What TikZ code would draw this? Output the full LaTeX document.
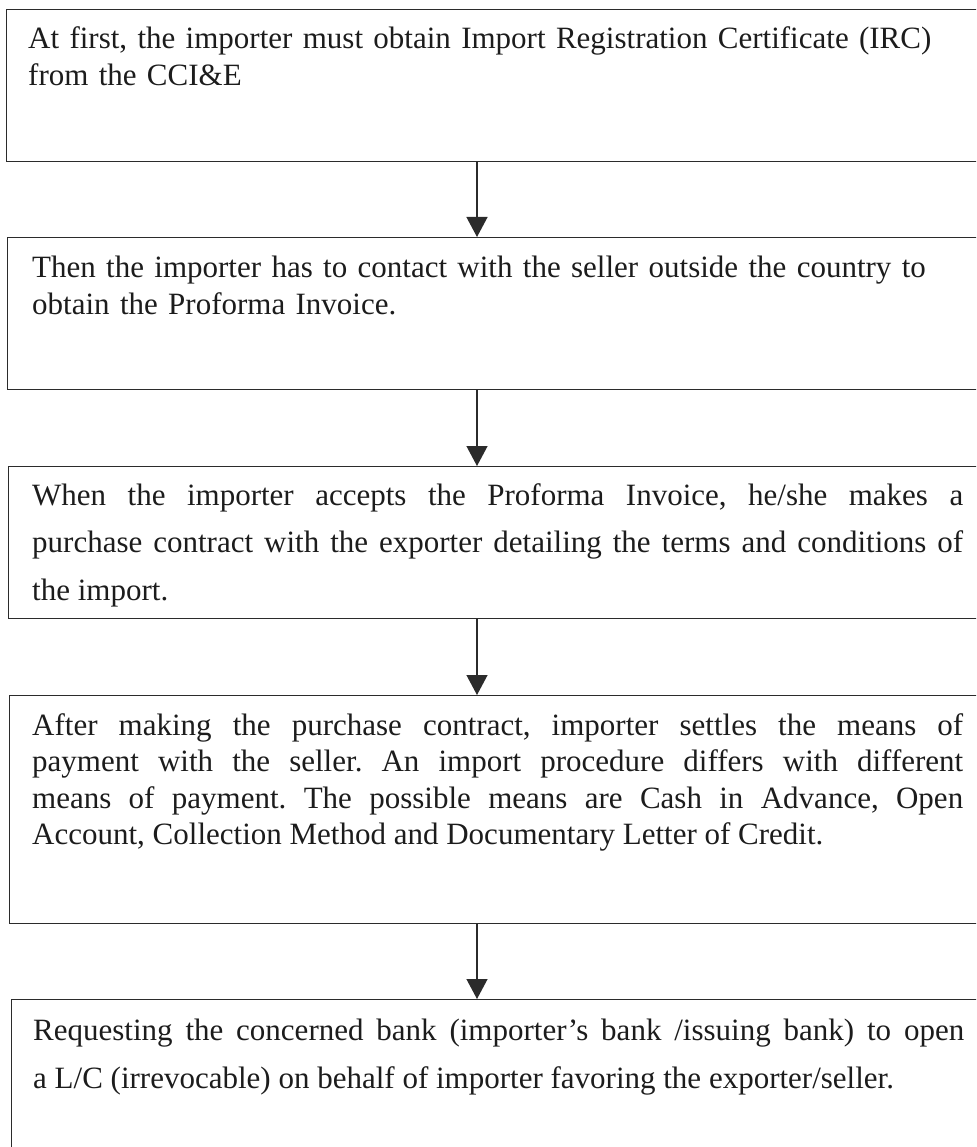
\documentclass[tikz,border=0pt]{standalone}
\usepackage{fontspec}
\setmainfont{Liberation Serif}
\usetikzlibrary{arrows.meta}
\definecolor{linegray}{HTML}{2B2B2B}
\definecolor{inkgray}{HTML}{1C1C1C}

\begin{document}
\frenchspacing
\begin{tikzpicture}[x=1pt,y=-1pt,
  stepbox/.style={draw=linegray, line width=1.3pt, rectangle, inner sep=0pt,
    anchor=north west, minimum width=#1},
  stepbox/.default=990pt,
  steptext/.style={anchor=north west, inner sep=0pt, text width=931pt,
    text=inkgray},
  arr/.style={draw=linegray, line width=1.3pt,
    -{Triangle[length=20pt,width=21pt]}}]

\useasboundingbox (0,0) rectangle (976,1147);
\clip (0,0) rectangle (976,1147);

% boxes (right edges run past the page)
\node[stepbox=984pt, minimum height=152pt] (b1) at (6,9) {};
\node[stepbox=983pt, minimum height=152pt] (b2) at (7,237) {};
\node[stepbox=982pt, minimum height=152pt] (b3) at (8,466) {};
\node[stepbox=981pt, minimum height=228pt] (b4) at (9,695) {};
\node[stepbox=979pt, minimum height=200pt] (b5) at (11,999) {};

% box texts
\node[steptext, align=left, font=\fontsize{31}{37}\selectfont] (t1) at (28,22)
  {\rule{0pt}{26pt}At first, the importer must obtain Import Registration Certificate (IRC)\\
   from the CCI\&E};
\node[steptext, align=left, font=\fontsize{31}{37}\selectfont] (t2) at (32,251)
  {\rule{0pt}{26pt}Then the importer has to contact with the seller outside the country to\\
   obtain the Proforma Invoice.};
\node[steptext, align=justify, font=\fontsize{31}{47.5}\selectfont] (t3) at (32,479)
  {\rule{0pt}{26pt}When the importer accepts the Proforma Invoice, he/she makes a\linebreak
   purchase contract with the exporter detailing the terms and conditions of\linebreak
   the import.};
\node[steptext, align=justify, font=\fontsize{31}{36.5}\selectfont] (t4) at (32,709)
  {\rule{0pt}{26pt}After making the purchase contract, importer settles the means of\linebreak
   payment with the seller. An import procedure differs with different\linebreak
   means of payment. The possible means are Cash in Advance, Open\linebreak
   Account, Collection Method and Documentary Letter of Credit.};
\node[steptext, align=justify, font=\fontsize{31}{48}\selectfont] (t5) at (33,1014)
  {\rule{0pt}{26pt}Requesting the concerned bank (importer’s bank /issuing bank) to open\linebreak
   a L/C (irrevocable) on behalf of importer favoring the exporter/seller.};

% connectors
\coordinate (ax) at (477,0);
\draw[arr] (b1.south -| ax) -- (b2.north -| ax);
\draw[arr] (b2.south -| ax) -- (b3.north -| ax);
\draw[arr] (b3.south -| ax) -- (b4.north -| ax);
\draw[arr] (b4.south -| ax) -- (b5.north -| ax);
\end{tikzpicture}
\end{document}
